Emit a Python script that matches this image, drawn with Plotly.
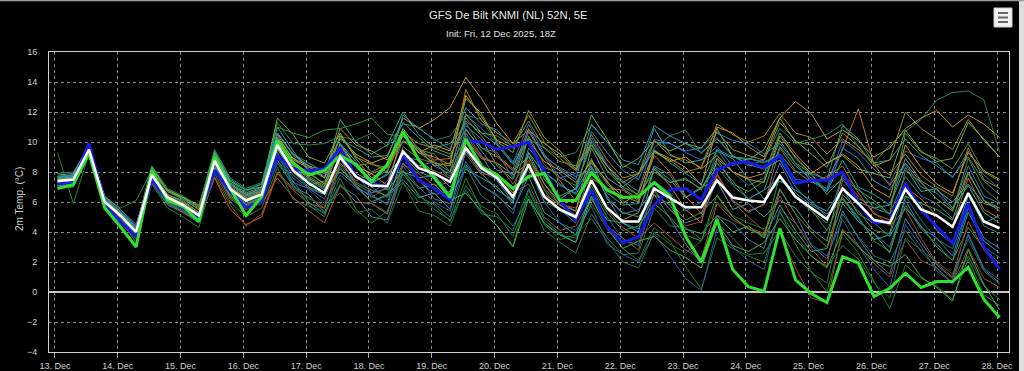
import sys
import datetime as dt
import plotly.graph_objects as go

# ---------------- data ----------------
start = dt.datetime(2025, 12, 13, 1, 0)  # 13 Dec 00Z shown in CET
n_steps = 61
times = [start + dt.timedelta(hours=6 * i) for i in range(n_steps)]

mean_line = [7.4, 7.5, 9.5, 6.0, 5.1, 4.0, 7.8, 6.3, 5.8, 5.1, 8.75, 6.85, 6.1, 6.5, 9.8, 8.1, 7.25, 6.6, 9.0, 7.7,
             7.1, 7.05, 9.35, 8.25, 7.9, 7.35, 9.6, 8.25, 7.6, 6.35, 8.5, 6.35, 5.5, 5.0, 7.45, 5.6, 4.7, 4.7, 6.9, 6.25,
             5.65, 5.65, 7.45, 6.3, 6.1, 6.0, 7.75, 6.35, 5.6, 4.85, 6.9, 5.9, 4.8, 4.6, 6.85, 5.5, 5.1, 4.35, 6.6, 4.7, 4.25]

green_line = [6.9, 7.15, 9.25, 5.6, 4.35, 3.0, 8.1, 6.1, 5.7, 4.7, 9.0, 6.9, 5.1, 6.35, 10.1,
              8.6, 7.8, 8.1, 9.1, 8.5, 7.35, 8.5, 10.7, 8.8, 7.6, 6.3, 10.2, 8.35, 7.8, 6.9,
              7.7, 7.9, 6.1, 6.1, 7.95, 6.8, 6.3, 6.35,
              7.3, 6.4, 3.7, 2.0, 4.85, 1.5, 0.35, 0.05,
              4.25, 0.8, -0.1, -0.7, 2.35, 1.95, -0.3, 0.25, 1.25, 0.3, 0.7, 0.7, 1.65, -0.5, -1.7]

blue_line = [7.2, 7.3, 9.9, 5.9, 4.7, 3.7, 7.5, 6.1, 5.6, 4.9, 8.1, 6.7, 5.6, 6.0, 9.1,
             8.2, 8.1, 8.2, 9.6, 7.7, 7.2, 7.05, 9.1, 7.45, 6.9, 6.15, 10.1, 10.0, 9.5, 9.7,
             10.0, 8.0, 6.1, 4.8, 6.8, 4.35, 3.25, 3.7, 5.8, 6.8, 6.9, 6.15, 8.1, 8.6, 8.65, 8.3,
             9.1, 7.25, 7.45, 7.45, 8.0, 5.9, 4.6, 4.7, 7.25, 5.45, 4.35, 3.25, 5.9, 3.0, 1.5]

m01 = [7.9, 8.0, 9.7, 6.3, 5.6, 6.1, 8.1, 6.7, 6.2, 5.5, 9.2, 7.4, 6.7, 7.2,
       11.3, 9.9, 9.8, 9.9, 10.4, 10.1, 10.6, 9.7, 11.2, 11.0, 10.1, 10.4, 11.8, 11.5, 9.9, 8.7, 10.2, 9.6, 9.0, 9.3,
       11.1, 10.0, 8.5, 7.9, 9.6, 10.4, 10.8, 9.2, 10.3, 9.1, 8.4, 8.8, 10.9, 9.9, 10.2, 10.5, 11.2, 9.7, 8.6, 9.8,
       10.7, 11.5, 12.8, 13.3, 13.4, 12.8, 9.3]
m02 = [7.2, 7.3, 9.5, 6.1, 5.2, 4.2, 7.4, 6.0, 5.3, 4.8, 7.6, 5.5, 4.5, 5.0,
       7.9, 6.8, 5.9, 5.6, 8.6, 7.4, 7.9, 8.3, 10.1, 9.6, 8.8, 8.9, 11.6, 10.4, 9.1, 8.2, 10.9, 9.0, 7.4, 6.1,
       7.6, 6.9, 6.8, 6.1, 9.1, 8.0, 6.4, 5.2, 7.9, 6.1, 5.4, 5.8, 9.6, 8.1, 7.3, 7.7, 8.4, 6.6, 5.2, 4.8,
       7.0, 6.2, 5.1, 4.3, 7.6, 5.5, 4.9]
m03 = [7.5, 7.7, 9.8, 6.1, 5.3, 4.3, 8.4, 6.7, 6.3, 5.7, 9.3, 7.4, 6.8, 7.0,
       11.0, 9.4, 8.0, 7.2, 9.9, 8.7, 7.3, 7.8, 9.1, 8.0, 7.6, 6.4, 8.2, 7.6, 7.0, 5.9, 9.3, 7.9, 6.2, 6.9,
       10.1, 8.4, 7.0, 7.8, 10.9, 9.2, 8.6, 8.8, 9.4, 8.9, 7.5, 6.2, 7.4, 6.8, 6.1, 5.0, 6.2, 4.9, 3.5, 3.8,
       6.9, 5.8, 4.1, 3.2, 6.4, 4.6, 5.1]
m04 = [7.0, 7.0, 9.3, 5.8, 4.9, 3.8, 7.3, 5.8, 5.3, 4.6, 8.4, 6.5, 5.8, 6.2,
       8.8, 7.0, 6.5, 5.3, 7.1, 6.4, 5.0, 4.8, 8.0, 7.6, 6.2, 5.9, 10.6, 9.1, 7.4, 6.0, 9.6, 8.3, 7.9, 6.8,
       8.4, 6.3, 4.6, 4.2, 6.5, 4.9, 3.2, 1.9, 5.1, 4.6, 3.5, 2.9, 6.8, 5.2, 3.1, 2.2, 5.4, 3.6, 2.1, 1.2,
       4.9, 3.3, 1.8, 0.9, 3.8, 1.5, 0.6]
m05 = [7.6, 7.8, 9.6, 6.0, 5.2, 4.0, 7.6, 6.0, 5.6, 4.9, 8.5, 6.6, 5.8, 6.3,
       10.6, 9.2, 8.4, 8.1, 10.3, 9.2, 8.6, 9.0, 11.6, 10.9, 11.5, 12.3, 14.3, 12.9, 11.2, 9.9, 10.8, 9.9, 9.2, 8.1,
       9.8, 8.4, 7.3, 7.9, 9.4, 8.9, 8.3, 7.1, 11.0, 10.6, 9.7, 9.0, 11.6, 12.7, 11.9, 10.2, 10.8, 10.1, 9.0, 9.6,
       10.9, 11.6, 12.1, 11.0, 11.8, 11.2, 10.3]
m06 = [9.3, 5.9, 9.2, 5.7, 4.8, 3.3, 7.2, 5.6, 5.0, 4.3, 7.9, 6.0, 5.0, 5.6,
       8.3, 6.2, 5.7, 5.3, 7.6, 5.5, 4.6, 5.4, 8.1, 6.4, 5.8, 4.7, 7.6, 5.5, 4.4, 3.1, 6.8, 4.5, 3.8, 3.6,
       5.9, 4.2, 2.9, 2.1, 4.3, 3.4, 1.7, 0.2, 3.6, 2.9, 2.4, 2.0, 5.4, 3.2, 1.4, 0.0, 3.9, 2.6, 0.7, -1.1,
       1.8, 0.9, 0.4, -0.5, 2.2, -0.2, -0.9]
m07 = [7.1, 7.2, 9.3, 5.9, 5.0, 3.9, 8.1, 6.8, 6.3, 5.8, 9.0, 7.2, 6.5, 6.7,
       10.5, 8.8, 8.3, 7.9, 10.9, 9.8, 9.4, 8.8, 10.4, 9.3, 9.0, 8.5, 10.2, 8.9, 8.6, 7.8, 8.6, 6.5, 5.8, 5.1,
       7.4, 5.6, 4.8, 5.3, 8.2, 7.1, 5.5, 4.6, 8.9, 8.0, 7.6, 7.9, 10.6, 9.2, 8.1, 7.4, 9.5, 12.2, 8.5, 7.1,
       8.6, 7.3, 6.2, 5.4, 8.0, 6.1, 5.4]
m08 = [7.8, 7.9, 9.8, 6.4, 5.5, 4.5, 7.9, 6.2, 5.8, 5.2, 9.1, 7.1, 6.4, 6.8,
       9.8, 8.3, 7.6, 6.9, 8.0, 7.1, 6.0, 6.5, 7.5, 6.3, 6.6, 5.5, 9.4, 7.9, 6.8, 6.1, 9.3, 7.2, 5.8, 5.4,
       9.6, 7.6, 6.9, 6.2, 8.4, 7.8, 6.3, 7.0, 7.4, 5.5, 5.9, 5.0, 6.1, 5.6, 4.2, 3.4, 7.9, 6.0, 5.6, 5.8,
       8.9, 7.4, 6.8, 6.0, 7.2, 5.9, 5.6]
m09 = [7.5, 7.6, 9.5, 6.0, 5.0, 4.1, 8.0, 6.5, 6.1, 5.3, 8.7, 6.9, 6.1, 6.6,
       10.3, 8.9, 8.2, 7.6, 11.5, 10.0, 9.2, 9.8, 12.0, 10.5, 9.6, 9.9, 11.1, 10.2, 8.4, 7.5, 10.3, 7.5, 6.4, 6.9,
       8.9, 6.2, 5.3, 5.0, 6.5, 5.8, 4.2, 3.9, 5.1, 4.0, 4.4, 3.6, 5.8, 4.1, 2.7, 2.9, 5.9, 4.7, 3.9, 2.6,
       6.4, 5.9, 5.5, 4.8, 7.9, 6.1, 5.6]
m10 = [7.2, 7.3, 9.9, 6.3, 5.4, 4.4, 7.9, 6.4, 5.9, 5.2, 8.5, 6.7, 5.9, 6.3,
       9.3, 7.3, 6.9, 6.5, 9.3, 7.8, 6.6, 7.4, 10.1, 9.6, 8.4, 7.9, 11.8, 10.9, 9.9, 8.6, 11.2, 9.2, 7.6, 7.9,
       10.3, 8.5, 7.4, 6.7, 10.2, 9.9, 9.3, 8.8, 9.7, 8.4, 8.9, 8.7, 9.1, 7.5, 7.4, 6.9, 10.1, 9.3, 8.2, 7.2,
       9.4, 8.9, 8.6, 7.6, 9.4, 7.8, 6.9]
m11 = [7.5, 7.5, 9.3, 5.8, 4.9, 3.7, 7.3, 5.9, 5.3, 4.7, 7.7, 5.8, 4.4, 5.2,
       8.0, 6.9, 6.3, 5.6, 8.9, 7.1, 6.3, 7.0, 9.0, 8.4, 8.1, 7.6, 9.2, 7.8, 7.9, 6.6, 7.2, 5.0, 4.1, 4.4,
       6.2, 4.4, 3.6, 2.8, 6.7, 5.5, 4.4, 4.7, 7.8, 6.0, 5.0, 4.1, 3.9, 1.6, -0.4, -0.7, 4.2, 3.1, 1.9, 1.0,
       3.5, 2.1, 1.6, 0.6, 2.9, 0.9, 0.3]
m12 = [7.1, 7.1, 9.2, 5.6, 4.7, 3.6, 7.4, 5.9, 5.4, 4.7, 8.2, 6.3, 5.6, 6.0,
       8.8, 7.4, 6.0, 5.2, 7.2, 6.0, 5.9, 5.3, 7.9, 6.5, 5.5, 4.8, 6.8, 5.2, 5.0, 4.1, 6.9, 4.8, 3.9, 3.3,
       6.9, 5.0, 3.5, 3.1, 7.4, 6.6, 5.4, 6.0, 9.5, 8.0, 7.1, 7.6, 10.6, 8.9, 7.8, 6.8, 7.5, 6.2, 5.9, 5.2,
       6.4, 4.8, 3.5, 2.9, 5.6, 3.0, 2.3]
m13 = [7.7, 7.8, 9.6, 6.1, 5.2, 4.1, 8.3, 6.8, 6.3, 5.6, 9.3, 7.3, 6.6, 7.0,
       11.6, 10.5, 9.0, 8.6, 10.6, 8.9, 7.6, 8.3, 10.9, 9.5, 8.4, 8.6, 12.9, 11.9, 10.0, 9.3, 12.1, 10.3, 9.4, 8.2,
       11.8, 10.2, 8.3, 8.9, 10.1, 9.4, 9.9, 9.6, 10.9, 9.0, 8.8, 9.5, 11.6, 10.0, 9.8, 8.6, 9.1, 8.2, 7.9, 7.6,
       10.8, 9.4, 8.7, 8.9, 11.3, 10.2, 9.0]
m14 = [7.4, 7.5, 9.7, 6.2, 5.3, 4.2, 7.6, 6.1, 5.6, 4.9, 8.9, 7.0, 6.3, 6.7,
       10.1, 8.6, 7.1, 7.4, 8.3, 7.0, 6.4, 5.9, 9.2, 7.6, 7.8, 6.5, 10.9, 9.4, 8.1, 7.9, 10.7, 9.1, 8.2, 7.5,
       11.2, 10.0, 8.8, 8.5, 11.1, 10.4, 9.9, 9.3, 10.2, 9.1, 8.5, 8.2, 8.8, 7.0, 5.9, 5.4, 6.9, 5.2, 4.6, 3.7,
       5.6, 4.4, 3.0, 2.1, 5.3, 3.4, 2.6]
m15 = [7.3, 7.4, 9.5, 6.0, 5.1, 4.0, 7.8, 6.3, 5.8, 5.1, 9.1, 7.2, 6.5, 6.9,
       10.3, 8.9, 8.4, 7.6, 9.8, 8.4, 7.9, 7.1, 10.6, 9.3, 9.8, 9.4, 13.1, 11.7, 10.1, 9.6, 10.1, 8.7, 8.1, 7.3,
       8.7, 7.4, 5.9, 6.6, 9.4, 8.7, 9.0, 8.2, 9.1, 8.0, 7.5, 7.3, 10.4, 9.0, 7.9, 8.6, 9.2, 8.4, 6.9, 6.3,
       9.8, 8.3, 7.2, 6.6, 9.3, 8.1, 7.5]
m16 = [6.9, 7.0, 9.1, 5.6, 4.6, 3.5, 7.5, 6.0, 5.5, 4.8, 8.4, 6.5, 5.8, 6.2,
       9.3, 7.1, 6.2, 5.8, 6.6, 5.3, 5.5, 4.6, 7.3, 5.4, 5.1, 4.4, 7.1, 5.7, 5.2, 3.7, 6.4, 4.5, 3.5, 3.8,
       4.9, 3.4, 2.0, 1.6, 4.0, 3.2, 2.6, 3.4, 6.0, 5.1, 4.6, 4.2, 5.3, 3.8, 2.4, 1.7, 3.1, 2.2, 0.6, -0.4,
       3.6, 2.8, 2.0, 1.2, 3.5, 1.4, 0.5]
m17 = [7.6, 7.6, 9.8, 6.3, 5.4, 4.3, 8.2, 6.7, 6.2, 5.5, 9.4, 7.5, 6.8, 7.2,
       10.6, 9.2, 8.6, 8.0, 10.2, 9.6, 9.0, 9.1, 11.3, 10.3, 9.4, 9.0, 11.4, 10.6, 9.8, 8.5, 10.1, 8.0, 7.2, 6.5,
       8.3, 6.6, 5.8, 5.9, 9.5, 8.6, 7.9, 7.2, 9.5, 9.0, 8.9, 8.6, 9.2, 8.0, 7.9, 7.5, 11.1, 10.2, 8.6, 8.8,
       10.2, 9.1, 8.4, 7.7, 9.0, 7.4, 6.5]
m18 = [7.6, 7.7, 9.6, 6.1, 5.2, 4.1, 7.9, 6.4, 5.9, 5.2, 8.8, 6.8, 6.1, 6.5,
       9.5, 8.1, 7.5, 6.8, 9.9, 8.4, 7.2, 7.9, 9.0, 8.8, 8.0, 7.0, 8.5, 7.1, 6.4, 5.5, 7.7, 5.3, 4.6, 3.8,
       6.4, 4.8, 4.6, 4.0, 8.3, 7.5, 6.3, 6.9, 8.6, 7.4, 6.2, 6.8, 9.7, 8.4, 7.6, 6.7, 8.8, 7.0, 6.5, 5.8,
       8.3, 6.7, 6.9, 5.6, 7.1, 5.3, 4.6]
m19 = [7.0, 7.1, 9.5, 5.9, 5.0, 3.9, 7.6, 6.1, 5.6, 4.9, 8.8, 6.9, 6.2, 6.6,
       9.0, 7.6, 6.8, 5.9, 7.8, 6.9, 6.5, 5.8, 8.4, 7.0, 6.0, 5.4, 8.7, 7.1, 6.5, 5.2, 8.4, 6.0, 4.6, 4.1,
       5.7, 3.2, 2.5, 2.0, 3.9, 2.4, 0.9, 0.1, 4.2, 3.0, 2.1, 1.5, 5.5, 4.6, 3.2, 2.4, 4.8, 3.1, 1.5, 0.3,
       4.5, 3.0, 1.4, 0.6, 3.9, 1.6, 0.8]
m20 = [7.5, 7.6, 9.6, 6.1, 5.2, 4.0, 7.7, 6.2, 5.7, 5.0, 8.3, 6.4, 5.7, 6.1,
       9.8, 8.4, 7.9, 7.2, 10.4, 9.0, 8.5, 8.3, 10.6, 9.9, 9.6, 9.2, 10.8, 9.6, 9.0, 8.1, 9.0, 7.2, 6.0, 5.4,
       8.8, 7.3, 6.4, 6.0, 9.3, 8.8, 8.0, 8.3, 10.7, 9.5, 9.1, 8.8, 11.3, 10.1, 9.2, 8.3, 10.6, 9.7, 8.4, 8.8,
       12.0, 10.9, 10.2, 9.5, 11.5, 10.1, 9.0]
m21 = [7.7, 7.8, 9.7, 6.2, 5.3, 4.2, 8.4, 6.9, 6.4, 5.7, 9.5, 7.6, 6.9, 7.3,
       11.0, 10.6, 10.3, 10.8, 10.9, 11.2, 11.6, 10.5, 10.4, 9.6, 8.7, 8.0, 10.1, 8.6, 7.5, 6.2, 9.1, 6.8, 5.4, 4.9,
       7.1, 5.3, 4.1, 4.4, 5.9, 5.0, 3.8, 3.4, 6.5, 5.0, 4.2, 3.7, 7.8, 6.4, 5.5, 4.1, 6.3, 5.0, 3.4, 2.7,
       5.8, 4.2, 3.2, 2.1, 4.3, 2.9, 1.9]
m22 = [7.3, 7.4, 9.3, 5.8, 4.9, 3.8, 7.8, 6.3, 5.8, 5.1, 9.0, 7.2, 6.4, 6.8,
       10.3, 8.3, 7.4, 6.6, 8.9, 7.6, 7.0, 6.3, 8.6, 7.4, 6.5, 6.7, 9.4, 8.0, 7.5, 6.2, 8.3, 6.0, 5.5, 4.6,
       8.6, 7.2, 6.1, 5.3, 8.2, 7.3, 7.5, 6.9, 8.3, 7.1, 6.2, 6.8, 7.6, 6.3, 5.4, 4.6, 7.8, 6.9, 5.6, 5.2,
       7.7, 6.4, 5.9, 4.9, 6.5, 4.4, 3.9]
m23 = [7.2, 7.3, 9.4, 5.9, 5.0, 3.9, 7.5, 6.0, 5.5, 4.8, 8.1, 6.2, 5.5, 5.9,
       7.6, 6.3, 5.4, 4.6, 7.1, 6.0, 5.9, 5.2, 8.5, 7.9, 7.1, 7.3, 10.4, 9.0, 8.6, 7.2, 8.8, 6.9, 5.8, 5.6,
       7.3, 5.5, 4.3, 3.6, 4.6, 3.7, 2.8, 2.2, 5.9, 4.8, 4.3, 3.9, 6.4, 4.6, 2.9, 1.7, 7.5, 6.4, 5.3, 4.4,
       5.5, 3.6, 1.9, 1.0, 4.7, 2.8, 1.6]
m24 = [7.6, 7.7, 9.8, 6.2, 5.3, 4.2, 8.0, 6.5, 6.0, 5.3, 9.1, 7.2, 6.5, 6.9,
       10.6, 9.1, 8.4, 7.7, 9.6, 8.3, 7.5, 8.1, 11.8, 10.9, 10.2, 9.5, 12.3, 11.2, 10.8, 9.6, 10.2, 8.0, 7.1, 6.6,
       10.7, 9.3, 8.1, 7.5, 10.0, 9.9, 9.4, 9.6, 10.6, 10.1, 9.9, 9.2, 9.9, 8.6, 7.4, 6.7, 9.6, 8.9, 7.4, 6.8,
       8.5, 7.0, 6.6, 5.5, 8.4, 6.4, 5.9]
m25 = [7.4, 7.5, 9.4, 5.9, 5.0, 3.9, 8.2, 6.7, 6.2, 5.5, 8.8, 7.0, 6.2, 6.6,
       9.6, 8.1, 7.2, 6.6, 8.2, 7.3, 6.8, 6.4, 9.7, 8.9, 8.6, 7.7, 10.0, 8.4, 7.9, 6.6, 10.4, 8.5, 7.6, 7.1,
       9.8, 8.1, 7.3, 6.4, 7.3, 6.0, 4.8, 5.3, 6.4, 5.0, 4.2, 3.8, 6.9, 5.2, 4.0, 3.0, 6.5, 5.4, 4.1, 3.9,
       8.1, 7.3, 6.2, 5.4, 8.9, 6.9, 6.0]
m26 = [7.2, 7.3, 9.3, 5.8, 4.9, 3.8, 7.4, 5.9, 5.4, 4.7, 8.2, 6.3, 5.6, 6.0,
       8.6, 7.2, 5.8, 5.0, 8.5, 7.0, 6.0, 6.4, 7.3, 6.0, 5.9, 5.0, 8.4, 6.4, 5.7, 4.4, 6.2, 4.1, 3.3, 2.6,
       5.2, 3.6, 2.5, 2.6, 5.6, 4.4, 4.3, 3.5, 4.6, 3.6, 2.5, 2.6, 4.1, 2.4, 1.3, 0.6, 5.2, 3.7, 2.4, 2.0,
       4.1, 2.7, 1.6, 0.5, 2.4, 0.4, -0.5]
m27 = [7.5, 7.6, 9.7, 6.2, 5.3, 4.2, 7.9, 6.4, 5.9, 5.2, 9.0, 7.0, 6.3, 6.7,
       10.1, 8.7, 7.7, 7.1, 10.5, 9.1, 8.0, 8.5, 10.0, 9.5, 9.2, 8.0, 11.9, 10.6, 10.4, 9.7, 11.4, 9.6, 8.7, 8.4,
       9.9, 8.1, 7.0, 6.5, 8.0, 7.3, 7.6, 6.8, 8.9, 7.2, 6.7, 7.4, 10.1, 8.6, 7.9, 6.5, 7.6, 6.8, 6.1, 5.2,
       10.6, 9.3, 8.9, 8.2, 9.9, 8.0, 7.4]
m28 = [7.4, 7.4, 9.5, 6.0, 5.1, 4.0, 7.8, 6.3, 5.8, 5.1, 8.6, 6.8, 6.0, 6.4,
       9.5, 8.0, 7.0, 6.5, 9.2, 7.9, 7.4, 6.8, 8.1, 6.9, 7.2, 6.1, 6.6, 5.4, 4.4, 3.0, 6.2, 4.6, 3.8, 3.3,
       6.3, 4.3, 2.9, 3.4, 3.7, 2.8, 2.3, 1.6, 4.6, 3.1, 2.7, 3.3, 4.9, 3.5, 2.4, 1.6, 4.1, 3.0, 2.1, 1.7,
       2.5, 1.0, 0.3, -0.6, 2.8, 0.5, -1.2]
m29 = [7.7, 7.8, 9.7, 6.2, 5.3, 4.2, 7.7, 6.2, 5.7, 5.0, 8.5, 6.6, 5.9, 6.3,
       9.2, 7.8, 6.9, 6.2, 8.9, 7.2, 6.6, 6.9, 9.5, 8.4, 8.7, 7.5, 11.3, 9.6, 9.3, 7.6, 10.7, 9.0, 8.3, 7.7,
       8.2, 6.4, 5.2, 5.5, 6.8, 5.5, 4.6, 5.0, 7.4, 6.1, 5.3, 5.9, 8.6, 6.6, 5.8, 5.2, 6.3, 4.7, 3.9, 3.0,
       6.1, 4.3, 3.6, 2.4, 5.6, 3.6, 2.9]
m30 = [7.1, 7.2, 9.6, 6.1, 5.2, 4.1, 8.0, 6.5, 6.0, 5.3, 8.9, 7.0, 6.2, 6.6,
       10.0, 8.5, 7.6, 7.0, 9.7, 8.4, 8.6, 8.0, 10.5, 9.3, 8.6, 8.4, 13.5, 11.4, 10.6, 9.9, 11.8, 10.0, 8.9, 8.1,
       10.5, 8.8, 7.6, 7.9, 10.1, 9.1, 8.8, 8.3, 11.2, 10.5, 10.0, 10.4, 11.9, 10.6, 10.3, 9.2, 10.2, 9.5, 8.6, 7.8,
       9.2, 7.8, 7.0, 6.4, 9.6, 7.5, 6.9]

members = [m01, m02, m03, m04, m05, m06, m07, m08, m09, m10, m11, m12, m13, m14, m15,
           m16, m17, m18, m19, m20, m21, m22, m23, m24, m25, m26, m27, m28, m29, m30]
member_colors = ["#2e8b57", "#d2691e", "#20b2aa", "#4682b4", "#c8a032", "#228b22", "#cd853f", "#5f9ea0",
                 "#3cb371", "#3a6fd0", "#a0522d", "#008b8b", "#7cb342", "#2f9fbf", "#daa520", "#1f7a3a",
                 "#26a69a", "#2ab0a0", "#3060a0", "#9a9a2a", "#2e9e40", "#3d8c8c", "#b5562a", "#2a8fd0",
                 "#6b8e23", "#2a7f62", "#5a9e3a", "#4caf50", "#4a7ab0", "#b8860b"]

y_ticks = [-4, -2, 0, 2, 4, 6, 8, 10, 12, 14, 16]
title_text = "GFS De Bilt KNMI (NL) 52N, 5E"
subtitle_text = "Init: Fri, 12 Dec 2025, 18Z"
y_title = "2m Temp. (°C)"

for k, m in enumerate(members):
    if len(m) != n_steps:
        print("member", k + 1, "has", len(m), file=sys.stderr)

# ---------------- figure ----------------
fig = go.Figure()
for m, c in zip(members, member_colors):
    fig.add_trace(go.Scatter(x=times, y=m, mode="lines", line=dict(color=c, width=1),
                             opacity=0.95, hoverinfo="skip", showlegend=False))
fig.add_trace(go.Scatter(x=times, y=blue_line, mode="lines", line=dict(color="#1a1ae0", width=3),
                         showlegend=False))
fig.add_trace(go.Scatter(x=times, y=green_line, mode="lines", line=dict(color="#2fe02f", width=3),
                         showlegend=False))
fig.add_trace(go.Scatter(x=times, y=mean_line, mode="lines", line=dict(color="#ffffff", width=2.5),
                         showlegend=False))

L, R, T, B = 49, 15, 52, 19
W, H = 1024, 371
pw, ph = W - L - R, H - T - B


def px(xp):
    return (xp - L) / pw


def py(yp):
    return (H - B - yp) / ph


font_main = "Liberation Sans, Arial, sans-serif"
fig.update_layout(
    width=W, height=H,
    margin=dict(l=L, r=R, t=T, b=B, autoexpand=False),
    paper_bgcolor="#000000", plot_bgcolor="#000000",
    font=dict(family=font_main, color="#d0d0d0", size=9),
    showlegend=False,
    xaxis=dict(
        type="date", automargin=False,
        range=[dt.datetime(2025, 12, 12, 21, 43), dt.datetime(2025, 12, 28, 4, 35)],
        tick0="2025-12-13", dtick=86400000, tickformat="%-d. %b",
        showgrid=True, gridcolor="#8a8a8a", gridwidth=1, griddash="3px,3px",
        ticks="outside", ticklen=5, tickcolor="#a0a0a0", tickwidth=1,
        tickfont=dict(size=9, color="#d0d0d0"),
        showline=True, mirror=True, linecolor="#d0d0d0", linewidth=1,
        zeroline=False, fixedrange=True,
    ),
    yaxis=dict(
        range=[-4, 16], tickvals=y_ticks, automargin=False,
        showgrid=True, gridcolor="#8a8a8a", gridwidth=1, griddash="3px,3px",
        ticks="", ticklabelstandoff=9,
        tickfont=dict(size=9, color="#d0d0d0"),
        showline=True, mirror=True, linecolor="#d0d0d0", linewidth=1,
        zeroline=True, zerolinecolor="#c8c8c8", zerolinewidth=2, fixedrange=True,
    ),
    annotations=[
        dict(text=title_text, x=px(508), y=py(15), xref="paper", yref="paper", showarrow=False,
             font=dict(size=11.2, color="#e8e8e8", family=font_main), xanchor="center", yanchor="middle"),
        dict(text=subtitle_text, x=px(501), y=py(34), xref="paper", yref="paper", showarrow=False,
             font=dict(size=9.5, color="#e0e0e0", family=font_main), xanchor="center", yanchor="middle"),
        dict(text=y_title, x=px(19), y=py(199), xref="paper", yref="paper", showarrow=False, textangle=-90,
             font=dict(size=10, color="#d0d0d0", family=font_main), xanchor="center", yanchor="middle"),
    ],
    shapes=[
        # menu button
        dict(type="rect", xref="paper", yref="paper", x0=px(994), x1=px(1012), y0=py(27), y1=py(8),
             fillcolor="#f2f2f2", line=dict(color="#cccccc", width=1)),
        dict(type="line", xref="paper", yref="paper", x0=px(998), x1=px(1008), y0=py(13), y1=py(13),
             line=dict(color="#666666", width=2)),
        dict(type="line", xref="paper", yref="paper", x0=px(998), x1=px(1008), y0=py(17.5), y1=py(17.5),
             line=dict(color="#666666", width=2)),
        dict(type="line", xref="paper", yref="paper", x0=px(998), x1=px(1008), y0=py(22), y1=py(22),
             line=dict(color="#666666", width=2)),
        # outer border strips
        dict(type="rect", xref="paper", yref="paper", x0=px(1019), x1=px(1026), y0=py(380), y1=py(-2),
             fillcolor="#dcdcdc", line=dict(width=0)),
        dict(type="rect", xref="paper", yref="paper", x0=px(-2), x1=px(1026), y0=py(1.2), y1=py(-2),
             fillcolor="#9a9a9a", line=dict(width=0)),
    ],
)

fig.write_html("out.html", config={"displayModeBar": False},
               post_script="document.body.style.margin='0';document.body.style.background='#000';")
